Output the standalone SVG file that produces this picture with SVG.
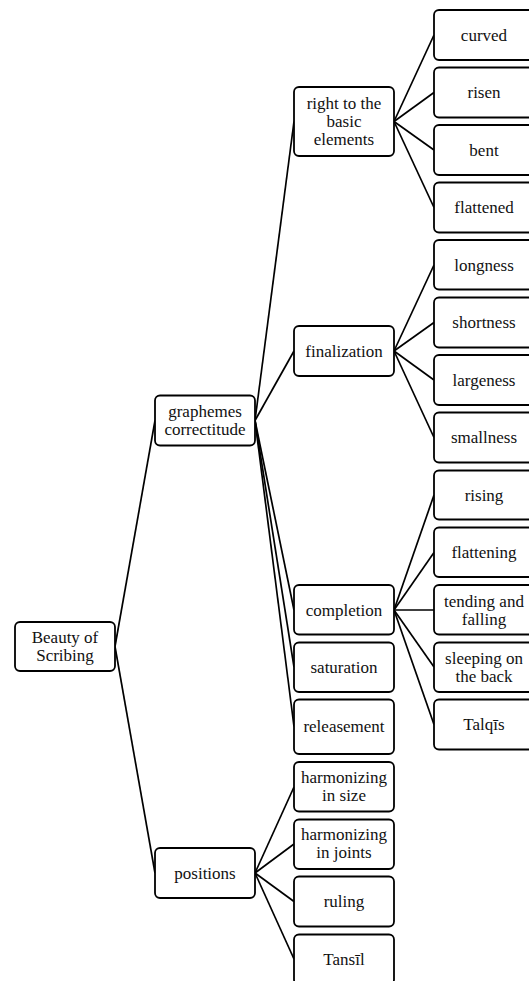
<svg xmlns="http://www.w3.org/2000/svg" width="529" height="981" viewBox="0 0 529 981">
<style>
rect{fill:#fff;stroke:#000;stroke-width:1.8}
text{font-family:"Liberation Serif","Times New Roman",serif;font-size:17px;fill:#111;text-anchor:middle}
#connectors line{stroke:#000;stroke-width:1.7}
</style>
<rect x="0" y="0" width="529" height="981" style="fill:#fff;stroke:none"/>
<g id="connectors">
<line x1="115" y1="646.5" x2="155" y2="420.5"/>
<line x1="115" y1="646.5" x2="155" y2="873"/>
<line x1="255" y1="420.5" x2="294" y2="121.5"/>
<line x1="255" y1="420.5" x2="294" y2="351"/>
<line x1="255" y1="420.5" x2="294" y2="610"/>
<line x1="255" y1="420.5" x2="294" y2="667"/>
<line x1="255" y1="420.5" x2="294" y2="726.5"/>
<line x1="394" y1="121.5" x2="434" y2="35"/>
<line x1="394" y1="121.5" x2="434" y2="92.5"/>
<line x1="394" y1="121.5" x2="434" y2="150"/>
<line x1="394" y1="121.5" x2="434" y2="207.5"/>
<line x1="394" y1="351" x2="434" y2="265"/>
<line x1="394" y1="351" x2="434" y2="322.5"/>
<line x1="394" y1="351" x2="434" y2="380"/>
<line x1="394" y1="351" x2="434" y2="437.5"/>
<line x1="394" y1="610" x2="434" y2="495"/>
<line x1="394" y1="610" x2="434" y2="552.5"/>
<line x1="394" y1="610" x2="434" y2="610"/>
<line x1="394" y1="610" x2="434" y2="667"/>
<line x1="394" y1="610" x2="434" y2="724.5"/>
<line x1="255" y1="873" x2="294" y2="787"/>
<line x1="255" y1="873" x2="294" y2="844"/>
<line x1="255" y1="873" x2="294" y2="901.5"/>
<line x1="255" y1="873" x2="294" y2="959"/>
</g>
<g id="n-root"><rect x="15" y="622" width="100" height="49" rx="5"/><text x="65" y="643">Beauty of</text><text x="65" y="661">Scribing</text></g>
<g id="n-graphemes"><rect x="155" y="395.5" width="100" height="50" rx="5"/><text x="205" y="417">graphemes</text><text x="205" y="435">correctitude</text></g>
<g id="n-positions"><rect x="155" y="848" width="100" height="50" rx="5"/><text x="205" y="878.5">positions</text></g>
<g id="n-right"><rect x="294" y="87" width="100" height="69" rx="5"/><text x="344" y="109">right to the</text><text x="344" y="127">basic</text><text x="344" y="145">elements</text></g>
<g id="n-finalization"><rect x="294" y="326" width="100" height="50" rx="5"/><text x="344" y="356.5">finalization</text></g>
<g id="n-completion"><rect x="294" y="585" width="100" height="49.5" rx="5"/><text x="344" y="615.5">completion</text></g>
<g id="n-saturation"><rect x="294" y="642.5" width="100" height="49.5" rx="5"/><text x="344" y="672.5">saturation</text></g>
<g id="n-releasement"><rect x="294" y="699.5" width="100" height="54.5" rx="5"/><text x="344" y="732">releasement</text></g>
<g id="n-hsize"><rect x="294" y="762" width="100" height="49.5" rx="5"/><text x="344" y="783">harmonizing</text><text x="344" y="801">in size</text></g>
<g id="n-hjoints"><rect x="294" y="819.5" width="100" height="49.5" rx="5"/><text x="344" y="840">harmonizing</text><text x="344" y="858">in joints</text></g>
<g id="n-ruling"><rect x="294" y="876.5" width="100" height="50" rx="5"/><text x="344" y="907">ruling</text></g>
<g id="n-tansil"><rect x="294" y="934.5" width="100" height="50" rx="5"/><text x="344" y="965">Tansīl</text></g>
<g id="n-curved"><rect x="434" y="10" width="100" height="50" rx="5"/><text x="484" y="40.5">curved</text></g>
<g id="n-risen"><rect x="434" y="67.5" width="100" height="50" rx="5"/><text x="484" y="98">risen</text></g>
<g id="n-bent"><rect x="434" y="125" width="100" height="50" rx="5"/><text x="484" y="155.5">bent</text></g>
<g id="n-flattened"><rect x="434" y="182.5" width="100" height="50" rx="5"/><text x="484" y="213">flattened</text></g>
<g id="n-longness"><rect x="434" y="240" width="100" height="49.5" rx="5"/><text x="484" y="270.5">longness</text></g>
<g id="n-shortness"><rect x="434" y="297.5" width="100" height="50" rx="5"/><text x="484" y="328">shortness</text></g>
<g id="n-largeness"><rect x="434" y="355" width="100" height="50" rx="5"/><text x="484" y="385.5">largeness</text></g>
<g id="n-smallness"><rect x="434" y="412.5" width="100" height="50" rx="5"/><text x="484" y="443">smallness</text></g>
<g id="n-rising"><rect x="434" y="470.5" width="100" height="49" rx="5"/><text x="484" y="500.5">rising</text></g>
<g id="n-flattening"><rect x="434" y="527.5" width="100" height="49.5" rx="5"/><text x="484" y="558">flattening</text></g>
<g id="n-tending"><rect x="434" y="585" width="100" height="49.5" rx="5"/><text x="484" y="606.5">tending and</text><text x="484" y="624.5">falling</text></g>
<g id="n-sleeping"><rect x="434" y="642.5" width="100" height="49.5" rx="5"/><text x="484" y="664">sleeping on</text><text x="484" y="682">the back</text></g>
<g id="n-talqis"><rect x="434" y="699.5" width="100" height="50" rx="5"/><text x="484" y="730">Talqīs</text></g>
</svg>
